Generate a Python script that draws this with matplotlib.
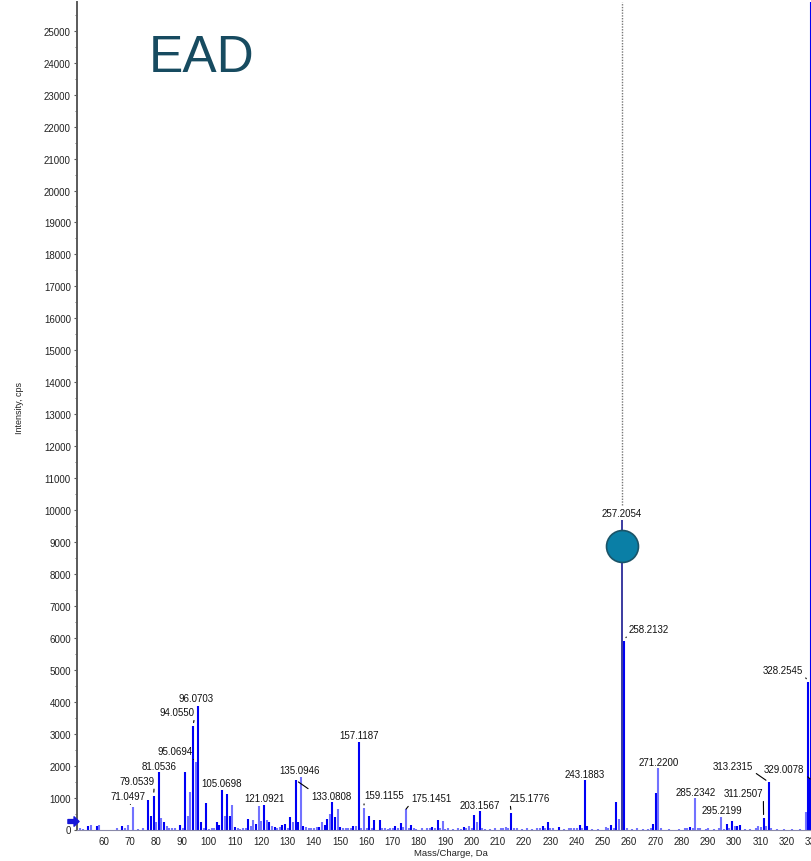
import matplotlib
matplotlib.use("Agg")
import matplotlib.pyplot as plt
from matplotlib.path import Path
from matplotlib.ticker import MultipleLocator

plt.rcParams["font.family"] = ["Liberation Sans", "DejaVu Sans"]

# ---- spectrum data: m/z, intensity (cps), shade flag (1 = strong blue, 0 = pale blue)
mz = [51.0, 52.1, 54.2, 55.2, 57.4, 58.3, 65.0, 67.1, 68.2, 69.2, 71.0497, 73.0, 75.0,
      77.04, 78.05, 79.0539, 80.05, 81.0536, 82.05, 83.05, 84.05, 85.05, 86.1, 87.05, 89.05,
      90.05, 91.05, 92.05, 93.07, 94.0550, 95.0694, 96.0703, 97.07, 98.07, 99.05, 100.1,
      101.1, 102.05, 103.05, 104.06, 105.0698, 106.07, 107.05, 108.08, 109.07, 110.07,
      111.08, 112.1, 113.08, 114.1, 115.05, 116.06, 117.07, 118.07, 119.09, 120.08,
      121.0921, 122.1, 123.1, 124.1, 125.1, 126.1, 127.07, 128.06, 129.07, 130.07, 131.07,
      132.08, 133.0808, 134.09, 135.0946, 136.1, 137.1, 138.1, 139.1, 140.1, 141.1, 142.1,
      143.1, 144.1, 145.1, 146.1, 147.11, 148.11, 149.1, 150.1, 151.1, 152.1, 153.1, 154.1,
      155.1, 156.1, 157.1187, 158.1, 159.1155, 160.1, 161.13, 162.1, 163.13, 165.13, 166.1,
      167.1, 168.1, 169.1, 170.1, 171.1, 172.1, 173.13, 174.1, 175.1451, 176.1, 177.13,
      178.1, 179.1, 181.1, 183.1, 184.1, 185.1, 186.1, 187.15, 188.1, 189.15, 190.1, 191.1,
      193.1, 195.1, 196.1, 197.1, 198.1, 199.13, 200.1, 201.15, 202.15, 203.1567, 204.1,
      205.1, 207.1, 209.1, 211.1, 212.1, 213.1, 214.1, 215.1776, 216.1, 217.2, 219.1,
      221.1, 223.1, 225.1, 226.1, 227.2, 228.1, 229.2, 230.1, 231.1, 233.2, 235.1, 237.1,
      238.1, 239.2, 240.1, 241.17, 242.2, 243.1883, 244.19, 246.1, 248.1, 251.2, 252.2,
      253.2, 254.2, 255.2, 256.2, 257.2054, 258.2132, 259.2, 261.2, 263.2, 265.2, 267.2,
      268.2, 269.2, 270.2, 271.2200, 272.2, 275.2, 279.2, 281.2, 282.2, 283.2, 284.2,
      285.2342, 286.2, 287.2, 289.2, 290.2, 292.2, 294.2, 295.2199, 296.2, 297.2, 298.2,
      299.2, 300.2, 301.2, 302.2, 304.2, 306.2, 308.2, 309.2, 310.2, 311.2507, 312.2,
      313.2315, 314.2, 316.2, 319.2, 322.2, 325.2, 327.2, 328.2545, 329.0078, 329.3]
intensity = [50, 30, 100, 130, 110, 130, 40, 120, 50, 140, 700, 30, 40,
             930, 430, 1060, 245, 1810, 350, 220, 120, 60, 40, 40, 130,
             60, 1810, 430, 1180, 3240, 2110, 3880, 245, 40, 830, 30,
             40, 60, 220, 130, 1250, 430, 1125, 430, 760, 70,
             60, 30, 40, 40, 340, 100, 290, 160, 740, 260,
             780, 290, 220, 100, 80, 60, 70, 130, 170, 60, 390,
             220, 1550, 230, 1650, 100, 80, 40, 60, 40, 80, 90,
             220, 130, 340, 490, 875, 390, 650, 80, 40, 40, 50, 60,
             120, 100, 2730, 60, 660, 60, 430, 60, 290, 290, 40,
             60, 30, 60, 40, 100, 60, 200, 80, 640, 60, 130,
             40, 30, 40, 50, 40, 80, 40, 310, 60, 280, 30, 40,
             30, 40, 30, 80, 40, 100, 40, 450, 240, 570, 40,
             30, 30, 40, 60, 40, 80, 40, 520, 60, 60, 30,
             40, 30, 50, 40, 100, 60, 220, 60, 40, 90, 30, 40,
             40, 60, 40, 150, 40, 1560, 100, 30, 30, 90, 40,
             130, 60, 870, 330, 9700, 5910, 40, 30, 40, 30, 30,
             40, 170, 1140, 1930, 40, 30, 30, 40, 60, 80, 40,
             985, 60, 40, 30, 40, 30, 40, 380, 30, 180, 40,
             280, 120, 100, 130, 30, 30, 60, 100, 80, 360, 100,
             1480, 40, 30, 30, 30, 30, 540, 4630, 1580, 30000]
strong = [0, 0, 1, 0, 1, 0, 0, 1, 0, 0, 0, 0, 0,
          1, 1, 1, 0, 1, 0, 1, 0, 0, 0, 0, 1,
          0, 1, 0, 0, 1, 0, 1, 1, 0, 1, 0,
          0, 0, 1, 1, 1, 0, 1, 1, 0, 1,
          0, 0, 0, 0, 1, 0, 0, 1, 0, 0,
          1, 0, 1, 0, 1, 0, 0, 1, 1, 0, 1,
          0, 1, 1, 0, 1, 0, 0, 0, 0, 0, 1,
          0, 1, 1, 0, 1, 1, 0, 1, 0, 0, 0, 0,
          1, 0, 1, 0, 0, 0, 1, 0, 1, 1, 0,
          0, 0, 0, 0, 1, 0, 1, 0, 0, 0, 1,
          0, 0, 0, 0, 0, 1, 0, 1, 0, 0, 0, 0,
          0, 0, 0, 1, 0, 0, 0, 1, 0, 1, 0,
          0, 0, 0, 0, 0, 0, 0, 1, 0, 0, 0,
          0, 0, 0, 0, 1, 0, 1, 0, 0, 1, 0, 0,
          0, 0, 0, 1, 0, 1, 1, 0, 0, 0, 0,
          1, 0, 1, 0, 1, 1, 0, 0, 0, 0, 0,
          0, 1, 1, 0, 0, 0, 0, 0, 0, 1, 0,
          0, 0, 0, 0, 0, 0, 0, 0, 0, 1, 0,
          1, 0, 1, 1, 0, 0, 0, 0, 0, 1, 0,
          1, 0, 0, 0, 0, 0, 0, 1, 1, 1]

# ---- labelled fragments
label_mz = [71.0497, 79.0539, 81.0536, 94.0550, 95.0694, 96.0703, 105.0698, 121.0921,
            133.0808, 135.0946, 157.1187, 159.1155, 175.1451, 203.1567, 215.1776,
            243.1883, 257.2054, 258.2132, 271.2200, 285.2342, 295.2199, 311.2507,
            313.2315, 328.2545, 329.0078]
label_text = ["71.0497", "79.0539", "81.0536", "94.0550", "95.0694", "96.0703", "105.0698",
              "121.0921", "133.0808", "135.0946", "157.1187", "159.1155", "175.1451",
              "203.1567", "215.1776", "243.1883", "257.2054", "258.2132", "271.2200",
              "285.2342", "295.2199", "311.2507", "313.2315", "328.2545", "329.0078"]

# label placement: offset of text centre from peak top (pixels) and leader anchor on the text
label_style = {
    "71.0497": ((-5, 11), (0.5, 0.0)),
    "79.0539": ((-17, 15), (1.0, 0.0)),
    "81.0536": ((0, 6), None),
    "94.0550": ((-16, 14), (1.0, 0.0)),
    "95.0694": ((-21, 11), (0.95, 0.0)),
    "96.0703": ((-2, 8), None),
    "105.0698": ((0, 7), None),
    "121.0921": ((0, 7), None),
    "133.0808": ((36, -16), (0.0, 1.0)),
    "135.0946": ((-1, 7), None),
    "157.1187": ((0, 7), None),
    "159.1155": ((20, 13), (0.0, 0.0)),
    "175.1451": ((25, 11), (0.0, 0.0)),
    "203.1567": ((0, 6), None),
    "215.1776": ((19, 15), (0.0, 0.0)),
    "243.1883": ((0, 6), None),
    "257.2054": ((0, 7), None),
    "258.2132": ((24, 12), (0.0, 0.0)),
    "271.2200": ((0, 6), None),
    "285.2342": ((0, 6), None),
    "295.2199": ((0, 7), None),
    "311.2507": ((-20, 25), (1.0, 0.0)),
    "313.2315": ((-36, 16), (1.0, 0.0)),
    "328.2545": ((-25, 12), (1.0, 0.0)),
    "329.0078": ((-26, 10), (1.0, 0.0)),
}

marker_mz = 257.2054
marker_level = 8870

W, H = 811, 862
fig = plt.figure(figsize=(W / 100, H / 100), dpi=100)
x0, x1 = 50, 336
y0, y1 = 0, 25900
ax_left = 77.3 / W
ax_bottom = 31.5 / H
ax_height = 827.5 / H
ax_width = (x1 - x0) * 2.627 / W
ax = fig.add_axes([ax_left, ax_bottom, ax_width, ax_height])
ax.set_xlim(x0, x1)
ax.set_ylim(y0, y1)

strong_col = "#0000f5"
pale_col = "#7272ff"
cols = [strong_col if s else pale_col for s in strong]
widths = [1.5] * len(mz)
base_idx = mz.index(marker_mz)
cols[base_idx] = "#1a1a90"
widths[base_idx] = 1.2
ax.vlines(mz, 0, intensity, colors=cols, linewidth=widths, zorder=2)

# dotted guide above the base fragment
i257 = intensity[base_idx]
ax.vlines([marker_mz], i257 + 450, y1, colors="#777777", linewidth=1.0,
          linestyles=(0, (1, 1)), zorder=1)

# marker circle on the base fragment
ax.plot([marker_mz], [marker_level], marker="o", markersize=23,
        markerfacecolor="#0a7fa6", markeredgecolor="#1b5468",
        markeredgewidth=1.2, zorder=4)

# fragment labels
for m, t in zip(label_mz, label_text):
    peak = intensity[mz.index(m)]
    (dx, dy), rel = label_style[t]
    kw = {}
    if rel is not None:
        kw["arrowprops"] = dict(arrowstyle="-", color="black", lw=0.8,
                                shrinkA=0.5, shrinkB=2.5, relpos=rel)
    ax.annotate(t, xy=(m, peak), xytext=(dx, dy), textcoords="offset pixels",
                ha="center", va="center", fontsize=7, color="#111111",
                zorder=5, **kw)

# axes styling
for side in ("top", "right"):
    ax.spines[side].set_visible(False)
ax.spines["left"].set_color("#5a5a5a")
ax.spines["left"].set_linewidth(1.4)
ax.spines["bottom"].set_color("#8a8aa8")
ax.spines["bottom"].set_linewidth(0.8)

ax.yaxis.set_major_locator(MultipleLocator(1000))
ax.yaxis.set_minor_locator(MultipleLocator(500))
ax.set_xticks(range(60, 331, 10))
ax.tick_params(axis="y", which="major", length=2.2, width=0.8, color="#5a5a5a",
               pad=2.4, labelsize=7, labelcolor="#222222")
ax.tick_params(axis="y", which="minor", length=1.3, width=0.6, color="#5a5a5a")
ax.tick_params(axis="x", which="major", length=0, pad=4.5, labelsize=7,
               labelcolor="#222222")

fig.text(20 / W, 1 - 408 / H, "Intensity, cps", rotation=90, ha="center",
         va="center", fontsize=6.5, color="#222222")
fig.text(451 / W, 1 - 854 / H, "Mass/Charge, Da", ha="center", va="center",
         fontsize=6.8, color="#222222")

fig.text(149 / W, 1 - 72 / H, "EAD", ha="left", va="baseline", fontsize=37,
         color="#174b60")

# injection arrow at the left of the baseline
arrow = Path([(-1, -0.35), (0.1, -0.35), (0.1, -0.85), (1, 0), (0.1, 0.85),
              (0.1, 0.35), (-1, 0.35), (-1, -0.35)],
             [Path.MOVETO] + [Path.LINETO] * 6 + [Path.CLOSEPOLY])
ax.plot([48.25], [275], marker=arrow, markersize=8, color="#1515d8",
        clip_on=False, zorder=6)

fig.savefig("out.png", dpi=100)
